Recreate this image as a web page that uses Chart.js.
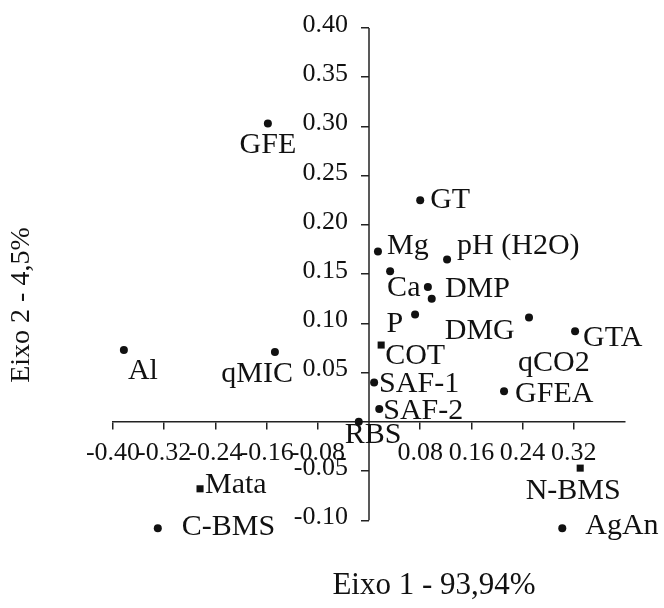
<!DOCTYPE html>
<html>
<head>
<meta charset="utf-8">
<script src="https://cdn.jsdelivr.net/npm/chart.js@4.4.0/dist/chart.umd.min.js"></script>
<style>
    html, body { margin: 0; padding: 0; background: #fff; }
    #wrap { width: 664px; height: 608px; }
</style>
</head>
<body>
<div id="wrap"><canvas id="grafico"></canvas></div>
<script>
// Variáveis: Eixo 1 x Eixo 2
const nomes = ['GFE', 'GT', 'Mg', 'pH (H2O)', 'Ca', 'DMP', 'DMG', 'P', 'qCO2', 'GTA', 'COT',
    'SAF-1', 'SAF-2', 'GFEA', 'RBS', 'Al', 'qMIC', 'Mata', 'C-BMS', 'N-BMS', 'AgAn'];
const eixo1 = [-0.158, 0.080, 0.014, 0.122, 0.033, 0.092, 0.098, 0.072, 0.250, 0.322, 0.019,
    0.008, 0.016, 0.211, -0.016, -0.383, -0.147, -0.264, -0.330, 0.330, 0.302];
const eixo2 = [0.303, 0.225, 0.173, 0.165, 0.153, 0.137, 0.125, 0.109, 0.106, 0.092, 0.078,
    0.040, 0.013, 0.031, 0.000, 0.073, 0.071, -0.068, -0.108, -0.047, -0.108];

const ticksX = [-0.40, -0.32, -0.24, -0.16, -0.08, 0.08, 0.16, 0.24, 0.32];
const ticksY = [-0.10, -0.05, 0.05, 0.10, 0.15, 0.20, 0.25, 0.30, 0.35, 0.40];

// marcadores quadrados
const quadrados = ['COT', 'Mata', 'N-BMS'];

// posição do rótulo em relação ao ponto: [alinhamento, dx, dy]
const posRotulo = {
    'GFE': ['center', 0, 22],
    'GT': ['left', 10, 0],
    'Mg': ['left', 9, -5],
    'pH (H2O)': ['left', 10, -13],
    'Ca': ['left', -3, 17],
    'DMP': ['left', 17, 2],
    'DMG': ['left', 13, 32],
    'P': ['right', -12, 10],
    'qCO2': ['left', -11, 46],
    'GTA': ['left', 8, 7],
    'COT': ['left', 4, 11],
    'SAF-1': ['left', 5, 2],
    'SAF-2': ['left', 4, 2],
    'GFEA': ['left', 11, 3],
    'RBS': ['left', -14, 13],
    'Al': ['left', 4, 21],
    'qMIC': ['right', 18, 22],
    'Mata': ['left', 5, -4],
    'C-BMS': ['left', 24, -1],
    'N-BMS': ['center', -7, 23],
    'AgAn': ['left', 23, -2]
};

const fonte = '"Liberation Serif", "DejaVu Serif", serif';
const corTexto = '#111';
const corEixo = '#222';

// Eixo Y (linha e rótulos), rótulos dos pontos e títulos dos eixos
const rotulosPlugin = {
    id: 'rotulos',
    afterDatasetsDraw: function(chart) {
        const ctx = chart.ctx;
        const sx = chart.scales.x;
        const sy = chart.scales.y;
        const x0 = sx.getPixelForValue(0);

        ctx.save();
        // linha do eixo Y só até -0.10
        ctx.strokeStyle = corEixo;
        ctx.lineWidth = 1.5;
        ctx.beginPath();
        ctx.moveTo(x0, sy.getPixelForValue(ticksY[ticksY.length - 1]));
        ctx.lineTo(x0, sy.getPixelForValue(ticksY[0]));
        ctx.stroke();

        // rótulos do eixo Y
        ctx.fillStyle = corTexto;
        ctx.font = '26px ' + fonte;
        ctx.textAlign = 'right';
        ctx.textBaseline = 'middle';
        ticksY.forEach(function(v) {
            ctx.fillText(v.toFixed(2), x0 - 21, sy.getPixelForValue(v) - 3);
        });

        // rótulos dos pontos
        ctx.font = '30px ' + fonte;
        const meta = chart.getDatasetMeta(0);
        meta.data.forEach(function(pt, i) {
            const p = posRotulo[nomes[i]] || ['left', 8, 0];
            ctx.textAlign = p[0];
            ctx.fillText(nomes[i], pt.x + p[1], pt.y + p[2]);
        });

        // título eixo 1
        ctx.textAlign = 'center';
        ctx.font = '31px ' + fonte;
        ctx.fillText('Eixo 1 - 93,94%', 434, 586);

        // título eixo 2
        ctx.translate(22, 305);
        ctx.rotate(-Math.PI / 2);
        ctx.font = '28px ' + fonte;
        ctx.fillText('Eixo 2 - 4,5%', 0, 0);
        ctx.restore();
    }
};

const ctx = document.getElementById('grafico');

new Chart(ctx, {
    type: 'scatter',
    data: {
        datasets: [{
            data: nomes.map(function(n, i) { return { x: eixo1[i], y: eixo2[i] }; }),
            backgroundColor: corTexto,
            borderColor: corTexto,
            borderWidth: 0,
            pointStyle: function(c) {
                return quadrados.includes(nomes[c.dataIndex]) ? 'rect' : 'circle';
            },
            pointRadius: function(c) {
                return quadrados.includes(nomes[c.dataIndex]) ? 5 : 4;
            },
            clip: false
        }]
    },
    options: {
        responsive: true,
        maintainAspectRatio: false,
        animation: false,
        layout: {
            padding: { left: 113, right: 39, top: 28, bottom: 68 }
        },
        plugins: {
            legend: { display: false },
            tooltip: { enabled: false }
        },
        scales: {
            x: {
                type: 'linear',
                position: { y: 0 },
                min: -0.40,
                max: 0.40,
                afterBuildTicks: function(scale) {
                    scale.ticks = ticksX.map(function(v) { return { value: v }; });
                },
                grid: {
                    drawOnChartArea: false,
                    drawTicks: true,
                    tickLength: 7,
                    color: corEixo,
                    lineWidth: 1.5
                },
                border: { color: corEixo, width: 1.5 },
                ticks: {
                    autoSkip: false,
                    maxRotation: 0,
                    minRotation: 0,
                    padding: 9,
                    color: corTexto,
                    font: { family: fonte, size: 26 },
                    callback: function(value) {
                        return value.toFixed(2);
                    }
                }
            },
            y: {
                type: 'linear',
                position: { x: 0 },
                min: -0.12,
                max: 0.40,
                afterBuildTicks: function(scale) {
                    scale.ticks = ticksY.map(function(v) { return { value: v }; });
                },
                grid: {
                    drawOnChartArea: false,
                    drawTicks: true,
                    tickLength: 8,
                    color: corEixo,
                    lineWidth: 1.5
                },
                border: { display: false },
                ticks: { display: false }
            }
        }
    },
    plugins: [rotulosPlugin]
});
</script>
</body>
</html>
